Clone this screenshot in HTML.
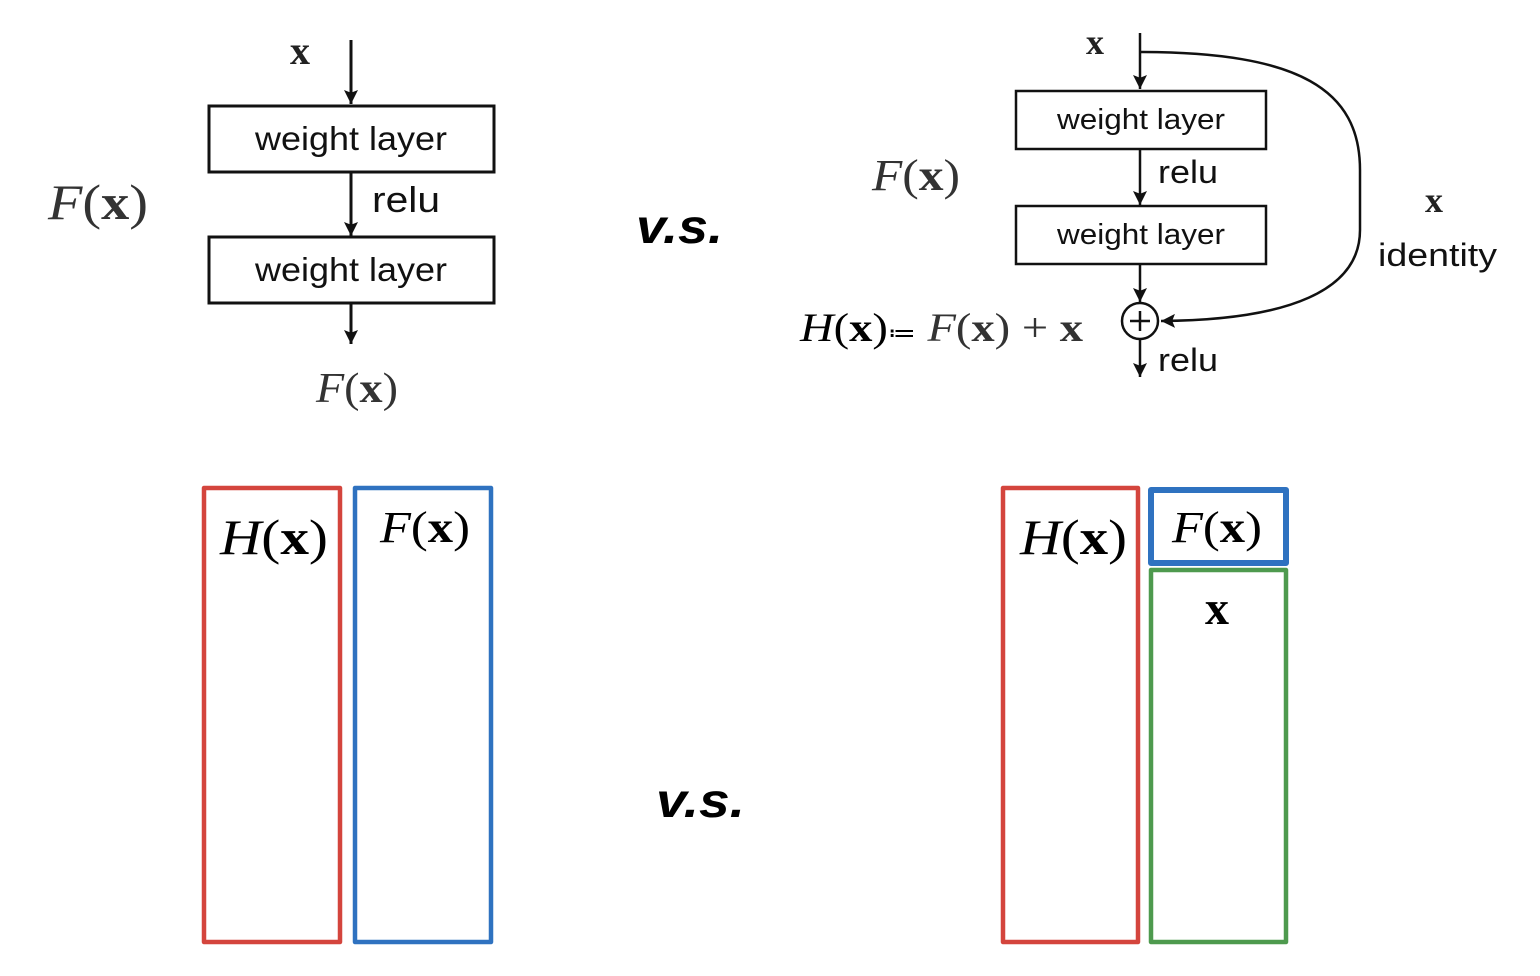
<!DOCTYPE html>
<html><head><meta charset="utf-8"><style>
html,body{margin:0;padding:0;background:#fff}
svg{display:block}
.s{font-family:"Liberation Sans",sans-serif;fill:#111}
.m{font-family:"Liberation Serif",serif;fill:#333}
.mb{font-family:"Liberation Serif",serif;font-weight:bold;fill:#222}
.vs{font-family:"Liberation Sans",sans-serif;font-style:italic;font-weight:bold;fill:#000}
</style></head><body>
<svg width="1540" height="976" viewBox="0 0 1540 976" xmlns="http://www.w3.org/2000/svg">
<defs>
<marker id="b" viewBox="0 0 10 10" refX="10" refY="5" markerWidth="20" markerHeight="14" orient="auto" markerUnits="userSpaceOnUse"><path d="M0,0 L10,5 L0,10 L2,5 z" fill="#111"/></marker></defs>
<g stroke="#111" stroke-width="3" fill="none">
<line x1="351" y1="40" x2="351" y2="104" marker-end="url(#b)"/>
<rect x="209" y="106" width="285" height="66"/>
<line x1="351" y1="173" x2="351" y2="236" marker-end="url(#b)"/>
<rect x="209" y="237" width="285" height="66"/>
<line x1="351" y1="304" x2="351" y2="344" marker-end="url(#b)"/>
</g>
<text x="300" y="64" class="mb" font-size="40" text-anchor="middle">x</text>
<text x="351" y="150" class="s" font-size="33" text-anchor="middle" textLength="192" lengthAdjust="spacingAndGlyphs">weight layer</text>
<text x="351" y="281" class="s" font-size="33" text-anchor="middle" textLength="192" lengthAdjust="spacingAndGlyphs">weight layer</text>
<text x="372" y="212" class="s" font-size="36" textLength="68" lengthAdjust="spacingAndGlyphs">relu</text>
<text x="48" y="219" class="m" font-size="50" textLength="100" lengthAdjust="spacingAndGlyphs"><tspan font-style="italic">F</tspan>(<tspan font-weight="bold">x</tspan>)</text>
<text x="316" y="402" class="m" font-size="42" textLength="82" lengthAdjust="spacingAndGlyphs"><tspan font-style="italic">F</tspan>(<tspan font-weight="bold">x</tspan>)</text>
<text x="636" y="243" class="vs" font-size="48" textLength="87" lengthAdjust="spacingAndGlyphs">v.s.</text>

<g stroke="#111" stroke-width="2.5" fill="none">
<line x1="1140" y1="33" x2="1140" y2="89" marker-end="url(#b)"/>
<rect x="1016" y="91" width="250" height="58"/>
<line x1="1140" y1="150" x2="1140" y2="205" marker-end="url(#b)"/>
<rect x="1016" y="206" width="250" height="58"/>
<line x1="1140" y1="265" x2="1140" y2="302" marker-end="url(#b)"/>
<circle cx="1140" cy="321" r="18"/>
<line x1="1130" y1="321" x2="1150" y2="321"/><line x1="1140" y1="311" x2="1140" y2="331"/>
<line x1="1140" y1="339" x2="1140" y2="377" marker-end="url(#b)"/>
<path d="M1140,52 C1300,52 1360,90 1360,170 L1360,230 C1360,290 1290,320 1161,321" marker-end="url(#b)"/>
</g>
<text x="1095" y="54" class="mb" font-size="36" text-anchor="middle">x</text>
<text x="1141" y="129" class="s" font-size="29" text-anchor="middle" textLength="168" lengthAdjust="spacingAndGlyphs">weight layer</text>
<text x="1141" y="244" class="s" font-size="29" text-anchor="middle" textLength="168" lengthAdjust="spacingAndGlyphs">weight layer</text>
<text x="1158" y="183" class="s" font-size="32" textLength="60" lengthAdjust="spacingAndGlyphs">relu</text>
<text x="1158" y="371" class="s" font-size="32" textLength="60" lengthAdjust="spacingAndGlyphs">relu</text>
<text x="1434" y="212" class="mb" font-size="36" text-anchor="middle">x</text>
<text x="1378" y="266" class="s" font-size="32" textLength="119" lengthAdjust="spacingAndGlyphs">identity</text>
<text x="872" y="190" class="m" font-size="44" textLength="88" lengthAdjust="spacingAndGlyphs"><tspan font-style="italic">F</tspan>(<tspan font-weight="bold">x</tspan>)</text>
<text x="800" y="341" class="m" font-size="40" textLength="283" lengthAdjust="spacingAndGlyphs"><tspan font-style="italic" fill="#000">H</tspan><tspan fill="#000">(</tspan><tspan font-weight="bold" fill="#000">x</tspan><tspan fill="#000">)</tspan><tspan font-size="24" fill="#000">≔</tspan> <tspan font-style="italic">F</tspan>(<tspan font-weight="bold">x</tspan>) + <tspan font-weight="bold">x</tspan></text>

<g fill="none" stroke-width="4.5" stroke-linejoin="round">
<rect x="204" y="488" width="136" height="454" stroke="#d4453d"/>
<rect x="355" y="488" width="136" height="454" stroke="#2f72c0"/>
<rect x="1003" y="488" width="135" height="454" stroke="#d4453d"/>
<rect x="1151" y="490" width="135" height="73" stroke="#2f72c0" stroke-width="6"/>
<rect x="1151" y="570" width="135" height="372" stroke="#4e9a4e"/>
</g>
<text x="220" y="554" class="m" font-size="50" style="fill:#000" textLength="108" lengthAdjust="spacingAndGlyphs"><tspan font-style="italic">H</tspan>(<tspan font-weight="bold">x</tspan>)</text>
<text x="380" y="542" class="m" font-size="44" style="fill:#000" textLength="90" lengthAdjust="spacingAndGlyphs"><tspan font-style="italic">F</tspan>(<tspan font-weight="bold">x</tspan>)</text>
<text x="1020" y="554" class="m" font-size="50" style="fill:#000" textLength="107" lengthAdjust="spacingAndGlyphs"><tspan font-style="italic">H</tspan>(<tspan font-weight="bold">x</tspan>)</text>
<text x="1172" y="542" class="m" font-size="44" style="fill:#000" textLength="90" lengthAdjust="spacingAndGlyphs"><tspan font-style="italic">F</tspan>(<tspan font-weight="bold">x</tspan>)</text>
<text x="1217" y="624" class="mb" font-size="48" text-anchor="middle" style="fill:#000">x</text>
<text x="656" y="817" class="vs" font-size="48" textLength="89" lengthAdjust="spacingAndGlyphs">v.s.</text>
</svg>
</body></html>
